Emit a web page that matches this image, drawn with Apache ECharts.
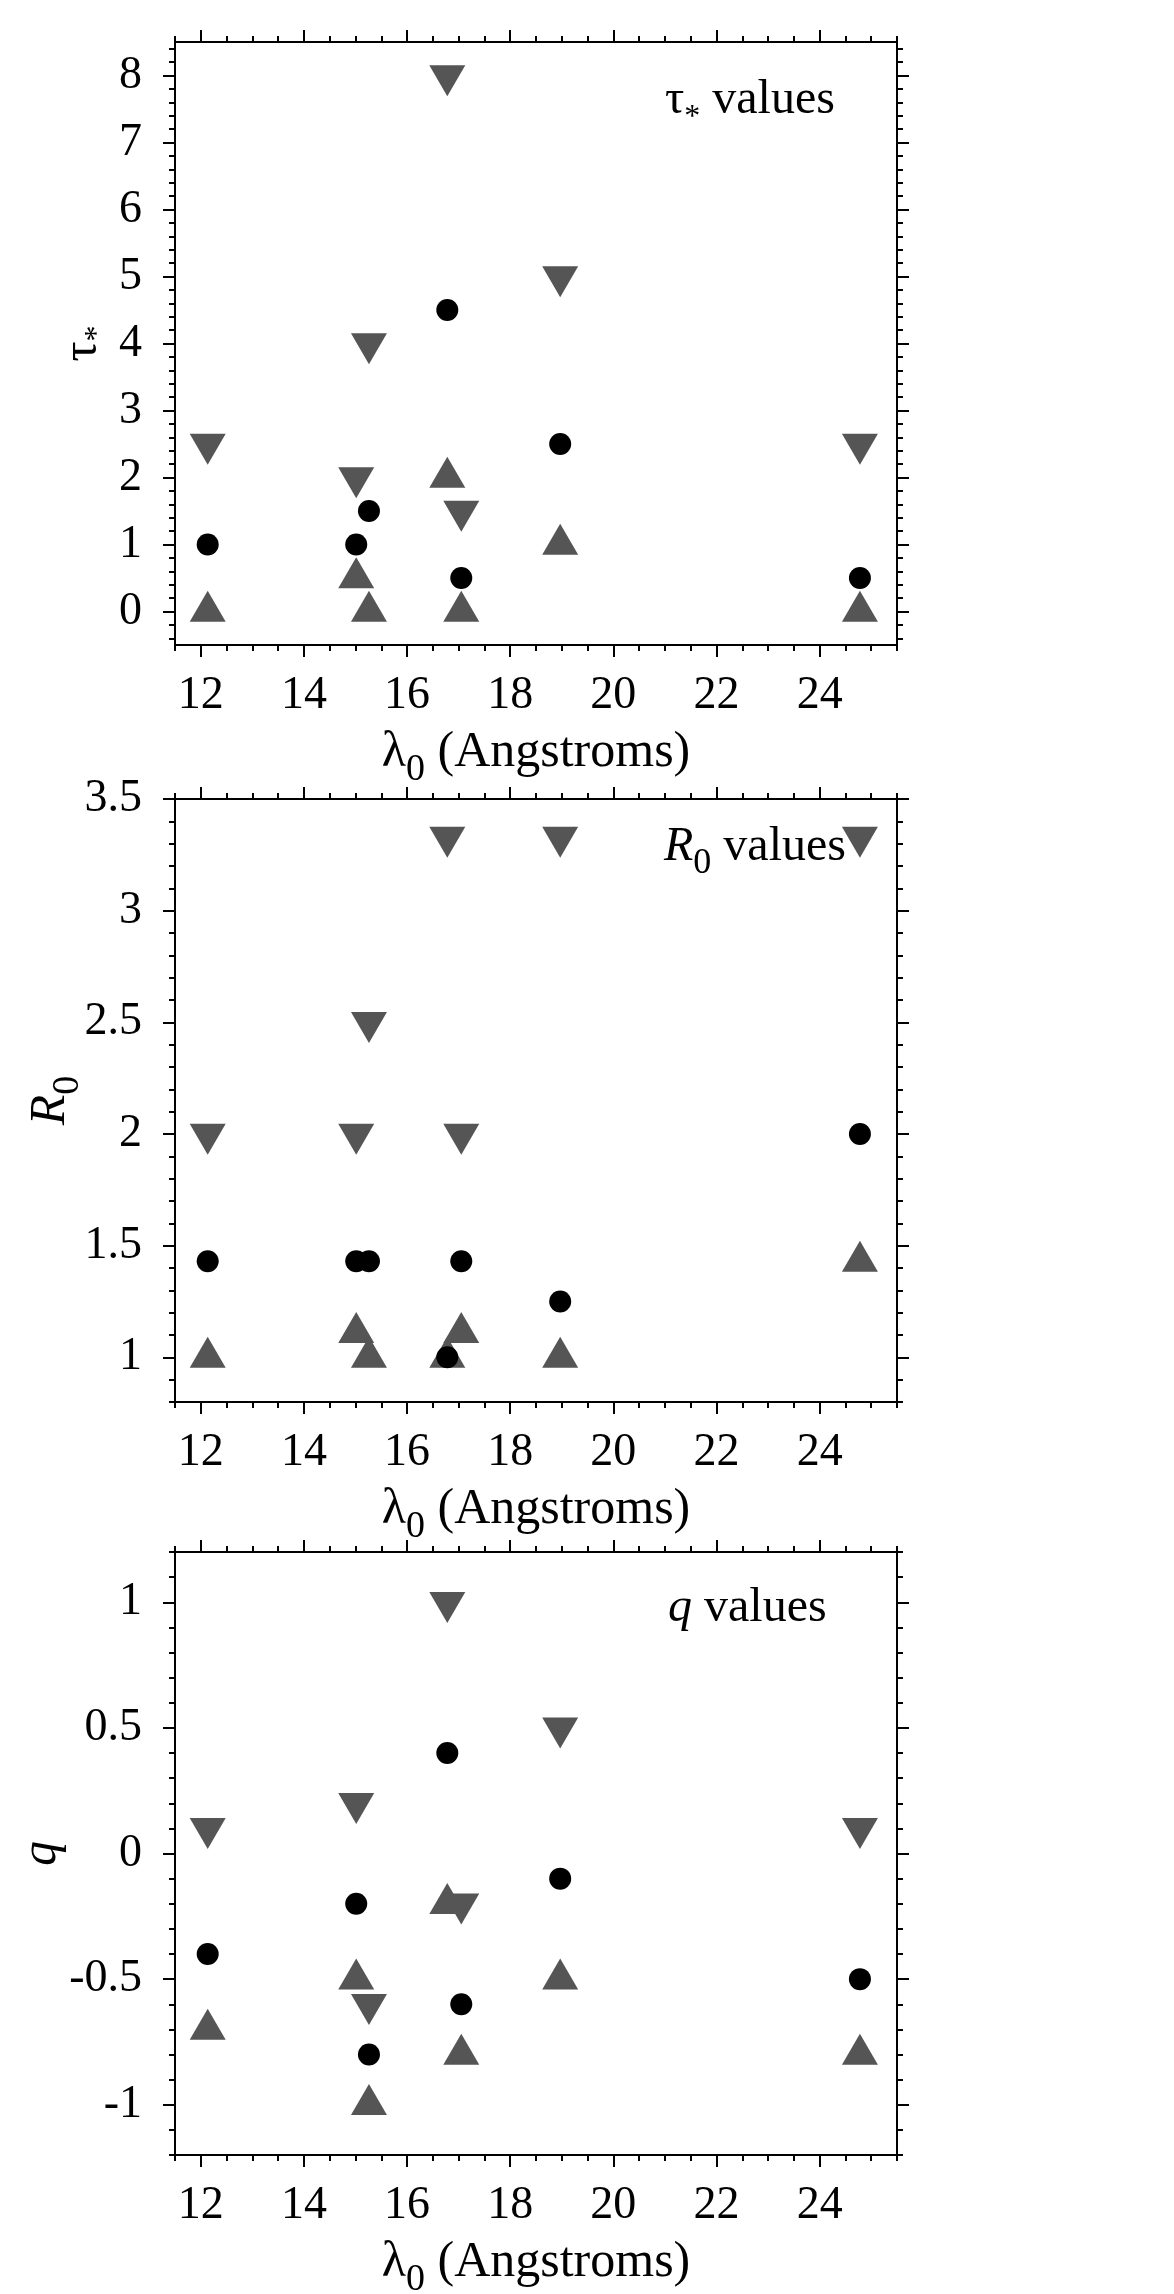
<!DOCTYPE html>
<html>
<head>
<meta charset="utf-8">
<script src="https://cdn.jsdelivr.net/npm/echarts@6/dist/echarts.min.js"></script>
<style>
  html, body { margin: 0; padding: 0; background: #fff; }
  #chart { width: 1174px; height: 2294px; }
</style>
</head>
<body>
<div id="chart"></div>
<script>
// Line centres (Angstroms)
const wavelengths = [12.134, 15.014, 15.261, 16.780, 17.051, 18.969, 24.781];

// tau_* : best fit, lower limit, upper limit
const tauBest  = [1, 1, 1.5, 4.5, 0.5, 2.5, 0.5];
const tauLower = [0, 0.5, 0, 2, 0, 1, 0];
const tauUpper = [2.5, 2, 4, 8, 1.5, 5, 2.5];

// R_0 : best fit, lower limit, upper limit
const r0Best  = [1.43, 1.43, 1.43, 1, 1.43, 1.25, 2];
const r0Lower = [1, 1.11, 1, 1, 1.11, 1, 1.43];
const r0Upper = [2, 2, 2.5, 3.33, 2, 3.33, 3.33];

// q : best fit, lower limit, upper limit
const qBest  = [-0.4, -0.2, -0.8, 0.4, -0.6, -0.1, -0.5];
const qLower = [-0.7, -0.5, -1, -0.2, -0.8, -0.5, -0.8];
const qUpper = [0.1, 0.2, -0.6, 1, -0.2, 0.5, 0.1];

// Labelled tick values
const xTickLabels   = [12, 14, 16, 18, 20, 22, 24];
const tauTickLabels = [0, 1, 2, 3, 4, 5, 6, 7, 8];
const r0TickLabels  = [1, 1.5, 2, 2.5, 3, 3.5];
const qTickLabels   = [-1, -0.5, 0, 0.5, 1];

const FONT = '"Liberation Serif", "Times New Roman", serif';
const TRI_COLOR = '#555555';
const TRI_SIZE = [36, 31];
const TRI_SHIFT = TRI_SIZE[1] / 6;   // centroid of the triangle sits on the value

function steps(a, b, step) {
  const out = [];
  const n = Math.round((b - a) / step);
  for (let i = 0; i <= n; i++) out.push(+(a + i * step).toFixed(6));
  return out;
}

const baseRich = {
  m:  { fontFamily: FONT, fontSize: 50, lineHeight: 56, color: '#000' },
  mi: { fontFamily: FONT, fontSize: 50, lineHeight: 56, color: '#000', fontStyle: 'italic' },
  s:  { fontFamily: FONT, fontSize: 38, lineHeight: 38, color: '#000', padding: [34, 0, 0, 0] },
  a:  { fontFamily: FONT, fontSize: 32, lineHeight: 32, color: '#000', padding: [30, 0, 0, 0] }
};

const X_MIN = 11.5, X_MAX = 25.5;
const xMinor = steps(X_MIN, X_MAX, 0.5);

const panels = [
  { top: 42,   min: -0.5, max: 8.5, minor: steps(-0.4, 8.4, 0.2), ticks: tauTickLabels,
    name: '{m|τ}{a|*}', nameGap: 64, best: tauBest, lower: tauLower, upper: tauUpper },
  { top: 799,  min: 0.8,  max: 3.5, minor: steps(0.8, 3.5, 0.1),  ticks: r0TickLabels,
    name: '{mi|R}{s|0}', nameGap: 96, best: r0Best, lower: r0Lower, upper: r0Upper },
  { top: 1552, min: -1.2, max: 1.2, minor: steps(-1.2, 1.2, 0.1), ticks: qTickLabels,
    name: '{mi|q}', nameGap: 105, best: qBest, lower: qLower, upper: qUpper }
];

const lineStyle = { color: '#000', width: 2 };
const tickLine = { color: '#000', width: 2 };
const labelStyle = { fontFamily: FONT, fontSize: 46, color: '#000' };

const grid = [], xAxis = [], yAxis = [], series = [];

panels.forEach((p, g) => {
  grid.push({ left: 175, width: 722, top: p.top, height: 603, outerBoundsMode: 'none', containLabel: false });

  // x: bottom minor, bottom major + labels, top minor, top major
  xAxis.push(
    { type: 'value', gridIndex: g, position: 'bottom', min: X_MIN, max: X_MAX,
      axisLine: { onZero: false, lineStyle }, axisTick: { customValues: xMinor, length: 6, lineStyle: tickLine },
      axisLabel: { show: false }, splitLine: { show: false } },
    { type: 'value', gridIndex: g, position: 'bottom', min: X_MIN, max: X_MAX,
      axisLine: { show: false, onZero: false }, axisTick: { customValues: xTickLabels, length: 12, lineStyle: tickLine },
      axisLabel: Object.assign({ customValues: xTickLabels, margin: 28 }, labelStyle),
      splitLine: { show: false },
      name: '{m|λ}{s|0}{m| (Angstroms)}', nameLocation: 'middle', nameGap: 80, nameMoveOverlap: false,
      nameTextStyle: { rich: baseRich } },
    { type: 'value', gridIndex: g, position: 'top', min: X_MIN, max: X_MAX,
      axisLine: { onZero: false, lineStyle }, axisTick: { customValues: xMinor, length: 6, lineStyle: tickLine },
      axisLabel: { show: false }, splitLine: { show: false } },
    { type: 'value', gridIndex: g, position: 'top', min: X_MIN, max: X_MAX,
      axisLine: { show: false, onZero: false }, axisTick: { customValues: xTickLabels, length: 12, lineStyle: tickLine },
      axisLabel: { show: false }, splitLine: { show: false } }
  );

  // y: left minor, left major + labels, right minor, right major
  yAxis.push(
    { type: 'value', gridIndex: g, position: 'left', min: p.min, max: p.max,
      axisLine: { show: true, onZero: false, lineStyle }, axisTick: { show: true, customValues: p.minor, length: 6, lineStyle: tickLine },
      axisLabel: { show: false }, splitLine: { show: false } },
    { type: 'value', gridIndex: g, position: 'left', min: p.min, max: p.max,
      axisLine: { show: false, onZero: false }, axisTick: { show: true, customValues: p.ticks, length: 12, lineStyle: tickLine },
      axisLabel: Object.assign({ customValues: p.ticks, margin: 33 }, labelStyle),
      splitLine: { show: false },
      name: p.name, nameLocation: 'middle', nameGap: p.nameGap, nameMoveOverlap: false,
      nameTextStyle: { rich: baseRich } },
    { type: 'value', gridIndex: g, position: 'right', min: p.min, max: p.max,
      axisLine: { show: true, onZero: false, lineStyle }, axisTick: { show: true, customValues: p.minor, length: 6, lineStyle: tickLine },
      axisLabel: { show: false }, splitLine: { show: false } },
    { type: 'value', gridIndex: g, position: 'right', min: p.min, max: p.max,
      axisLine: { show: false, onZero: false }, axisTick: { show: true, customValues: p.ticks, length: 12, lineStyle: tickLine },
      axisLabel: { show: false }, splitLine: { show: false } }
  );

  const xi = 4 * g + 1, yi = 4 * g + 1;
  const pts = arr => wavelengths.map((w, i) => [w, arr[i]]);
  series.push(
    { type: 'scatter', xAxisIndex: xi, yAxisIndex: yi, data: pts(p.lower),
      symbol: 'triangle', symbolSize: TRI_SIZE, symbolOffset: [0, -TRI_SHIFT],
      itemStyle: { color: TRI_COLOR, opacity: 1 }, z: 2 },
    { type: 'scatter', xAxisIndex: xi, yAxisIndex: yi, data: pts(p.upper),
      symbol: 'triangle', symbolSize: TRI_SIZE, symbolRotate: 180, symbolOffset: [0, TRI_SHIFT],
      itemStyle: { color: TRI_COLOR, opacity: 1 }, z: 3 },
    { type: 'scatter', xAxisIndex: xi, yAxisIndex: yi, data: pts(p.best),
      symbol: 'circle', symbolSize: 22, itemStyle: { color: '#000', opacity: 1 }, z: 4 }
  );
});

const noteRich = {
  m:  { fontFamily: FONT, fontSize: 48, lineHeight: 56, color: '#000' },
  mi: { fontFamily: FONT, fontSize: 48, lineHeight: 56, color: '#000', fontStyle: 'italic' },
  s:  { fontFamily: FONT, fontSize: 36, lineHeight: 36, color: '#000', padding: [34, 0, 0, 0] },
  a:  { fontFamily: FONT, fontSize: 32, lineHeight: 32, color: '#000', padding: [36, 0, 0, 0] }
};

const chart = echarts.init(document.getElementById('chart'), null, { renderer: 'canvas' });
chart.setOption({
  animation: false,
  backgroundColor: '#fff',
  grid, xAxis, yAxis, series,
  graphic: [
    { type: 'text', left: 665, top: 66,   style: { text: '{m|τ}{a|*}{m| values}', rich: noteRich } },
    { type: 'text', left: 664, top: 812,  style: { text: '{mi|R}{s|0}{m| values}', rich: noteRich } },
    { type: 'text', left: 668, top: 1584, style: { text: '{mi|q}{m| values}', rich: noteRich } }
  ]
});
</script>
</body>
</html>
